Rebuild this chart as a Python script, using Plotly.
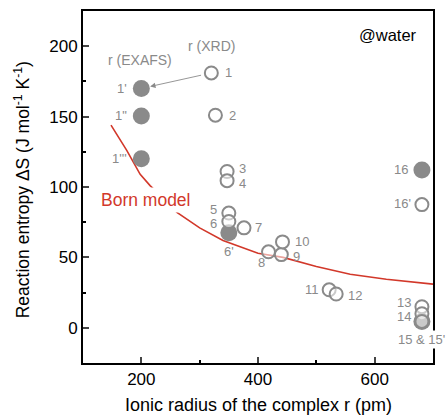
import plotly.graph_objects as go

# Open circles (r from XRD etc.)
open_labels = ["1", "2", "3", "4", "5", "6", "7", "8", "9", "10", "11", "12", "13", "14", "15", "16'"]
open_x = [320, 327, 347, 347, 350, 350, 376, 418, 440, 442, 522, 534, 681, 681, 681, 681]
open_y = [181, 151, 111, 104.5, 81.5, 75.5, 71, 54, 52, 61, 27, 24, 15, 10, 4.5, 87.5]

# Filled circles (r from EXAFS etc.)
filled_labels = ["1'", "1\"", "1'''", "6'", "15'", "16"]
filled_x = [200, 200, 200, 350, 681, 681]
filled_y = [170, 150.5, 120, 67.5, 4.5, 112]

# Born model curve
born_x = [148, 175, 198, 215, 240, 261, 300, 340, 400, 443, 500, 558, 620, 700]
born_y = [144, 126, 109, 101, 91, 82, 71, 62, 53, 50, 43.5, 38, 34.5, 31]

# label offsets in pixels (xshift, yshift) and anchor
label_pos = {
    "1": (12, 0, "left"), "2": (12, 0, "left"), "3": (10, 3, "left"), "4": (10, -3, "left"),
    "5": (-10, 4, "right"), "6": (-10, -2, "right"), "7": (9, 0, "left"),
    "8": (-7, -11, "center"), "9": (10, -2, "left"), "10": (10, 0, "left"),
    "11": (-8, 0, "right"), "12": (10, -1, "left"), "13": (-9, 4, "right"),
    "14": (-9, -3, "right"), "16'": (-9, 1, "right"),
    "1'": (-12, 0, "right"), "1\"": (-12, 0, "right"), "1'''": (-12, 0, "right"),
    "6'": (0, -19, "center"), "16": (-12, 1, "right"),
}

GRAY = "#8a8a8a"
RED = "#d2382a"
FONT = "Liberation Sans, Arial"

fig = go.Figure()
fig.add_trace(go.Scatter(x=born_x, y=born_y, mode="lines",
                         line=dict(color=RED, width=1.6), showlegend=False, hoverinfo="skip"))
fig.add_trace(go.Scatter(x=filled_x, y=filled_y, mode="markers",
                         marker=dict(size=17, color=GRAY, line=dict(width=0)),
                         showlegend=False, cliponaxis=False))
fig.add_trace(go.Scatter(x=open_x, y=open_y, mode="markers",
                         marker=dict(size=13, color="rgba(255,255,255,0.55)",
                                     line=dict(width=2, color=GRAY)),
                         showlegend=False, cliponaxis=False))

annotations = []
for lab, xv, yv in list(zip(open_labels, open_x, open_y)) + list(zip(filled_labels, filled_x, filled_y)):
    if lab not in label_pos:
        continue
    dx, dy, anc = label_pos[lab]
    annotations.append(dict(x=xv, y=yv, xref="x", yref="y", text=lab, showarrow=False,
                            xshift=dx, yshift=dy, xanchor=anc,
                            font=dict(size=13, color=GRAY, family=FONT)))

# "15 & 15'" label under the last markers
annotations.append(dict(x=open_x[14], y=open_y[14], xref="x", yref="y", text="15 & 15'",
                        showarrow=False, yshift=-18, xanchor="center", bgcolor="white",
                        font=dict(size=13, color=GRAY, family=FONT)))

# Arrow from XRD point 1 to EXAFS point 1'
annotations.append(dict(x=filled_x[0], y=filled_y[0], ax=open_x[0], ay=open_y[0],
                        xref="x", yref="y", axref="x", ayref="y", text="",
                        showarrow=True, arrowhead=2, arrowsize=1.2, arrowwidth=0.9,
                        arrowcolor=GRAY, standoff=9, startstandoff=9))
annotations.append(dict(x=198, y=190, xref="x", yref="y", text="r (EXAFS)", showarrow=False,
                        font=dict(size=14, color=GRAY, family=FONT)))
annotations.append(dict(x=321, y=200, xref="x", yref="y", text="r (XRD)", showarrow=False,
                        font=dict(size=14, color=GRAY, family=FONT)))
annotations.append(dict(x=208, y=91, xref="x", yref="y", text="Born model", showarrow=False,
                        bgcolor="white", borderpad=2,
                        font=dict(size=17.5, color=RED, family=FONT)))
annotations.append(dict(x=0.871, y=0.932, xref="paper", yref="paper", text="@water", showarrow=False,
                        xanchor="center", yanchor="middle",
                        font=dict(size=16.5, color="black", family=FONT)))
# axis titles
annotations.append(dict(x=-0.174, y=0.491, xref="paper", yref="paper",
                        text="Reaction entropy ΔS (J mol<sup>-1</sup> K<sup>-1</sup>)",
                        textangle=-90, showarrow=False, xanchor="center", yanchor="middle",
                        font=dict(size=17.5, color="black", family=FONT)))
annotations.append(dict(x=0.5, y=-0.119, xref="paper", yref="paper",
                        text="Ionic radius of the complex r (pm)",
                        showarrow=False, xanchor="center", yanchor="middle",
                        font=dict(size=18, color="black", family=FONT)))

fig.update_layout(
    width=446, height=418,
    margin=dict(l=83, r=13, t=11, b=55, autoexpand=False),
    paper_bgcolor="white", plot_bgcolor="white",
    font=dict(family=FONT, size=16, color="black"),
    annotations=annotations,
    xaxis=dict(range=[100, 700], tickvals=[200, 400, 600], ticks="inside", ticklen=6, tickwidth=2,
               showline=True, linewidth=2, linecolor="black", mirror=True, showgrid=False,
               zeroline=False, tickfont=dict(size=17),
               minor=dict(tickvals=[300, 500], ticks="inside", ticklen=3, tickwidth=2, tickcolor="black")),
    yaxis=dict(range=[-25, 225], tickvals=[0, 50, 100, 150, 200], ticks="inside", ticklen=6, tickwidth=2,
               showline=True, linewidth=2, linecolor="black", mirror=True, showgrid=False,
               zeroline=False, tickfont=dict(size=17),
               minor=dict(tickvals=[25, 75, 125, 175], ticks="inside", ticklen=3, tickwidth=2, tickcolor="black")),
)

fig.write_html("out.html", config={"displayModeBar": False},
               post_script="document.body.style.margin='0';")
